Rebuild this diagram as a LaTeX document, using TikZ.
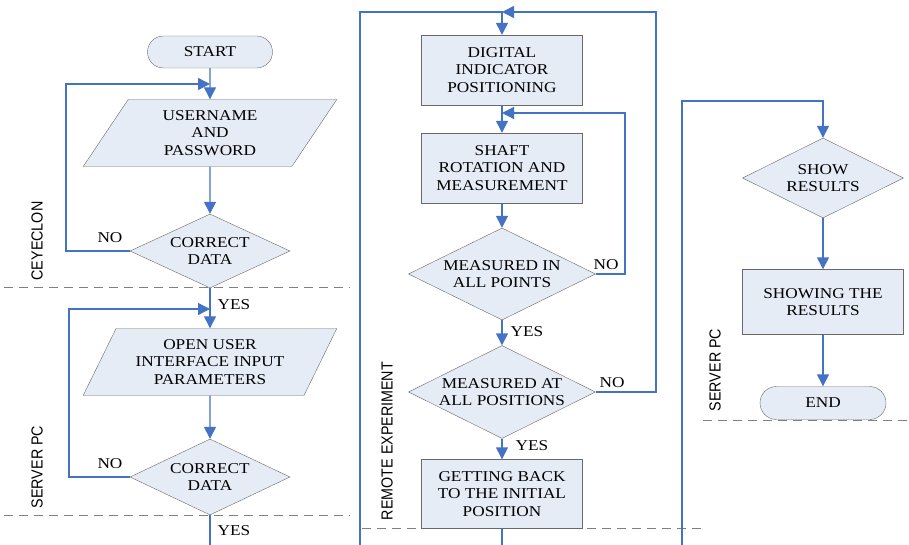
\documentclass[tikz,border=0pt]{standalone}
\usepackage{fontspec}
\setmainfont{Liberation Serif}[FakeStretch=1.15]
\newfontfamily\lanefont{Liberation Sans}
\usetikzlibrary{arrows.meta}
\usetikzlibrary{shapes.geometric}
\usetikzlibrary{shapes.misc}
\definecolor{boxfill}{RGB}{230,236,246}
\definecolor{boxline}{RGB}{105,105,105}
\definecolor{flowblue}{RGB}{68,114,196}
\tikzset{
  box/.style = {draw=boxline, fill=boxfill, align=center, inner sep=0pt,
    font=\fontsize{15}{17.5}\selectfont},
  terminal/.style = {box, rounded rectangle, minimum width=125pt, minimum height=32pt},
  io/.style = {box, trapezium, trapezium left angle=60, trapezium right angle=120,
    trapezium stretches, minimum width=254pt, minimum height=67pt},% entree / sortie
  process/.style = {box, rectangle, minimum width=161pt, minimum height=70pt},
  decision/.style = {box, diamond, aspect=2.16, minimum width=160pt, minimum height=74pt},
  flow/.style = {draw=flowblue, line width=1.4pt, -{Triangle[length=12pt,width=12pt]}},
  link/.style = {draw=flowblue, line width=1.4pt},
  lane/.style = {draw=gray, dash pattern=on 9pt off 6pt, line width=0.9pt},
  lanetext/.style = {rotate=90, yscale=1.12, font=\lanefont\fontsize{14.3}{16}\selectfont},
  answer/.style = {font=\fontsize{15}{17.5}\selectfont},
}
\begin{document}
\begin{tikzpicture}[x=1pt,y=-1pt]
\useasboundingbox (0,0) rectangle (909,545);
% lanes
\draw[lane] (4,287) -- (350,287);
\draw[lane] (4,515) -- (350,515);
\draw[lane] (362,528) -- (703,528);
\draw[lane] (703,420) -- (909,420);
\node[lanetext] (ceyeclon) at (37,241) {CEYECLON};
\node[lanetext] (serverl) at (37,467) {SERVER PC};
\node[lanetext] (remote) at (387,441) {REMOTE EXPERIMENT};
\node[lanetext] (serverr) at (715,370) {SERVER PC};

% left column
\node[terminal] (start) at (210,52) {START};
\node[io] (user) at (210,133) {USERNAME\\AND\\PASSWORD};
\node[decision] (dec1) at (210,251) {CORRECT\\DATA};
\node[io] (user2) at (210,362) {OPEN USER\\INTERFACE INPUT\\PARAMETERS};
\node[decision, minimum height=76pt] (dec2) at (210,477) {CORRECT\\DATA};
\coordinate (l1) at (66,84);
\coordinate (j1) at (210,84);
\coordinate (l2) at (69,309);
\coordinate (j2) at (210,309);
\coordinate (c1) at (210,545);
\draw[flow] (start) -- (user);
\draw[flow] (dec1.west) -| (l1) -- (j1);
\draw[flow] (user) -- (dec1);
\draw[flow] (dec1) -- (user2);
\draw[flow] (dec2.west) -| (l2) -- (j2);
\draw[flow] (user2) -- (dec2);
\draw[link] (dec2) -- (c1);
\node[answer] (no1) at (110,238) {NO};
\node[answer] (yes1) at (234,305) {YES};
\node[answer] (no2) at (110,464) {NO};
\node[answer] (yes2) at (234,531) {YES};

% middle column
\node[process] (dig) at (502,70) {DIGITAL\\INDICATOR\\POSITIONING};
\node[process] (shaft) at (502,168) {SHAFT\\ROTATION AND\\MEASUREMENT};
\node[decision, aspect=2.03, inner xsep=-4pt, minimum width=187pt, minimum height=92pt] (dec3) at (502,274) {MEASURED IN\\ALL POINTS};
\node[decision, aspect=2.03, inner xsep=-4pt, minimum width=187pt, minimum height=93pt] (dec4) at (502,392) {MEASURED AT\\ALL POSITIONS};
\node[process, minimum height=69pt] (back) at (502,494) {GETTING BACK\\TO THE INITIAL\\POSITION};
\coordinate (c2) at (360,545);
\coordinate (t1) at (502,12);
\coordinate (t2) at (656,12);
\coordinate (t3) at (625,113);
\coordinate (j3) at (502,113);
\coordinate (c3) at (502,545);
\draw[flow] (c2) |- (t1) -- (dig);
\draw[flow] (dec4.east) -| (t2) -- (t1);
\draw[flow] (dig) -- (shaft);
\draw[flow] (dec3.east) -| (t3) -- (j3);
\draw[flow] (shaft) -- (dec3);
\draw[flow] (dec3) -- (dec4);
\draw[flow] (dec4) -- (back);
\draw[link] (back) -- (c3);
\node[answer] (no3) at (606,265) {NO};
\node[answer] (yes3) at (527,332) {YES};
\node[answer] (no4) at (612,383) {NO};
\node[answer] (yes4) at (532,446) {YES};

% right column
\node[decision, aspect=2, minimum width=161pt, minimum height=80pt] (show) at (823,178) {SHOW\\RESULTS};
\node[process, minimum height=65pt] (res) at (823,302) {SHOWING THE\\RESULTS};
\node[terminal, minimum width=126pt, minimum height=33pt] (end) at (823,403) {END};
\coordinate (c4) at (682,545);
\coordinate (t4) at (823,101);
\draw[flow] (c4) |- (t4) -- (show);
\draw[flow] (show) -- (res);
\draw[flow] (res) -- (end);
\end{tikzpicture}
\end{document}
